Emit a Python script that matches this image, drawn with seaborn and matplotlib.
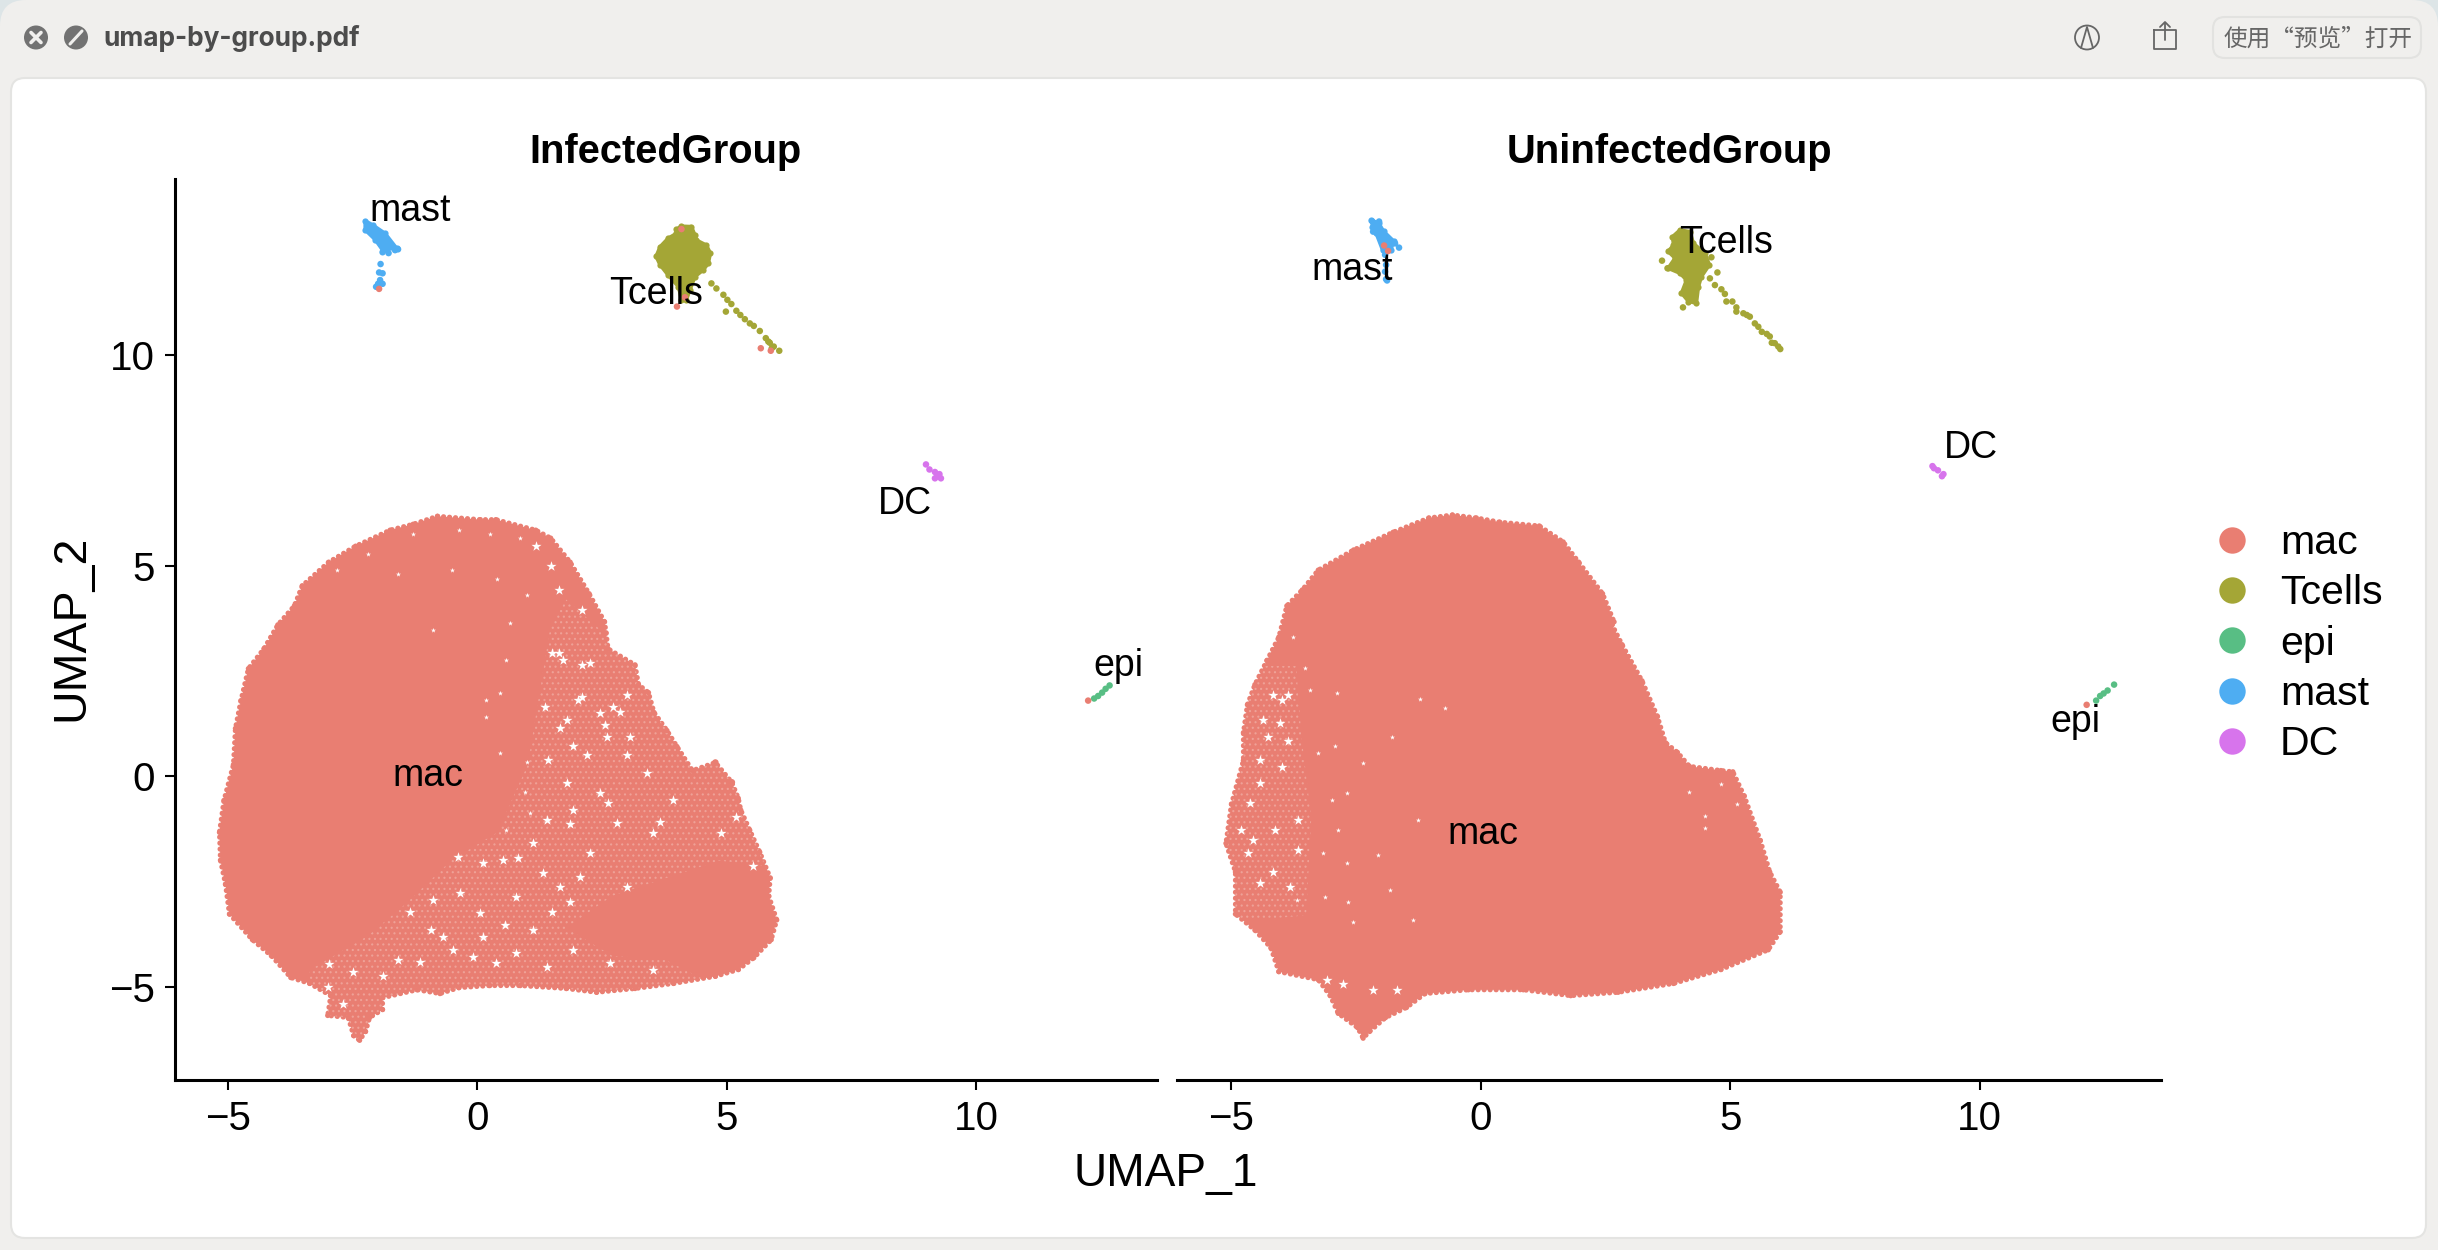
import matplotlib
matplotlib.use("Agg")
import matplotlib.pyplot as plt
from matplotlib.lines import Line2D
from matplotlib.patches import Circle, FancyBboxPatch
import pandas as pd
import seaborn as sns

W, H = 2438, 1250
CLUSTERS = ["mac", "Tcells", "epi", "mast", "DC"]
COLORS = ["#E97E72", "#A4A636", "#58BE84", "#4EADF2", "#D774EC"]
PALETTE = dict(zip(CLUSTERS, COLORS))
PANELS = ["InfectedGroup", "UninfectedGroup"]
XTICKS = [-5, 0, 5, 10]
YTICKS = [-5, 0, 5, 10]

# ---- values (UMAP coordinates) ----
inf_mac_x = [-0.8,0.06,0.37,1.17,1.47,1.86,2.24,2.55,2.58,2.62,3.16,3.23,3.43,3.54,3.8,4.0,4.31,4.77,5.1,5.23,5.28,5.46,5.66,5.87,5.84,6.0,5.89,5.54,5.23,4.77,3.93,3.16,2.39,1.78,0.86,0.25,-0.37,-0.75,-1.21,-1.9,-1.9,-2.16,-2.24,-2.36,-2.48,-2.59,-3.0,-2.94,-3.36,-3.74,-4.13,-4.51,-4.97,-5.05,-5.15,-5.17,-5.08,-4.89,-4.85,-4.74,-4.59,-4.28,-4.0,-3.67,-3.51,-2.98,-2.44,-1.75,-1.29]
inf_mac_y = [6.18,6.1,6.1,5.85,5.66,5.09,4.34,3.67,3.41,3.03,2.65,2.18,1.99,1.52,1.09,0.71,0.14,0.33,-0.14,-0.52,-0.8,-1.28,-1.8,-2.41,-2.84,-3.41,-3.88,-4.31,-4.59,-4.75,-4.92,-5.04,-5.13,-5.04,-4.97,-4.97,-5.02,-5.16,-5.07,-5.26,-5.54,-5.73,-6.06,-6.27,-6.16,-5.73,-5.68,-5.21,-4.92,-4.78,-4.26,-3.88,-3.27,-2.56,-1.99,-1.33,-0.57,0.28,1.14,1.8,2.56,3.03,3.6,4.05,4.53,5.09,5.47,5.85,5.99]
inf_sparse_x = [1.47,1.78,3.4,5.4,6.2,4.85,2.7,1.78,2.7,3.77,4.5,4.5,-1.8,-2.2,-3.5,-3.36,-2.2,-1.44,-0.52,0.4,1.01]
inf_sparse_y = [3.6,4.2,2.5,-0.2,-2.2,-2.0,-2.84,-3.6,-4.26,-4.36,-4.8,-5.4,-6.5,-6.5,-6.0,-4.6,-3.79,-3.03,-1.99,-1.33,0.28]

uni_mac_x = [-0.57,-1.04,-1.76,-2.55,-3.26,-3.58,-3.89,-4.05,-4.29,-4.53,-4.68,-4.76,-4.76,-5.0,-5.11,-4.92,-4.92,-4.53,-4.21,-4.05,-3.26,-3.02,-2.86,-2.47,-2.36,-2.23,-1.91,-1.49,-1.12,-0.25,0.85,1.8,2.75,3.86,4.81,5.76,6.0,6.0,5.79,5.6,5.28,5.05,4.81,4.18,3.94,3.7,3.54,3.23,2.83,2.63,2.67,2.44,1.96,1.65,1.17,0.38,-0.09]
uni_mac_y = [6.21,6.14,5.8,5.38,4.9,4.43,4.05,3.31,2.75,2.18,1.7,1.04,0.38,-0.66,-1.59,-2.27,-3.27,-3.65,-4.07,-4.64,-4.83,-5.21,-5.63,-5.97,-6.22,-6.06,-5.73,-5.49,-5.16,-5.07,-5.07,-5.21,-5.13,-4.92,-4.59,-4.12,-3.69,-2.75,-2.27,-1.52,-0.47,0.11,0.14,0.24,0.57,0.8,1.42,2.27,3.13,3.6,3.67,4.34,5.09,5.57,5.95,6.04,6.14]
uni_sparse_x = [-4.8,-3.7,-3.6,-3.4,-3.5,-5.3,-5.4]
uni_sparse_y = [2.6,2.6,1.0,-1.0,-3.3,-3.5,-1.0]

# speckle: places where the white background shows through the mac cloud
inf_gap_x = [1.49,1.72,2.25,2.02,2.72,1.35,1.79,2.45,1.65,2.59,3.06,1.42,1.92,2.19,2.99,1.79,2.45,2.62,1.92,1.39,2.79,3.66,1.85,1.12,0.82,0.52,-0.38,0.12,1.32,2.05,0.78,1.65,1.85,1.49,-0.68,0.05,0.12,0.55,1.12,-0.08,-0.48,0.38,1.39,2.65,3.52,2.25,4.89,5.53,5.19,3.39,3.52,-0.35,-0.88,-1.35,-0.92,-1.15,0.78,1.92,2.99,3.92,-2.97,-2.5,-1.9,-1.6,-3.0,-2.7,1.17,1.47,1.63,2.09,1.63,2.09,2.85,3.0,2.09,2.55]
inf_gap_y = [2.92,2.76,2.69,1.81,1.66,1.66,1.34,1.5,1.14,0.94,0.94,0.39,0.71,0.51,0.51,-0.16,-0.4,-0.64,-0.8,-1.04,-1.11,-1.08,-1.12,-1.59,-1.95,-1.99,-1.91,-2.06,-2.3,-2.38,-2.86,-2.62,-2.98,-3.21,-3.81,-3.25,-3.81,-3.53,-3.65,-4.28,-4.12,-4.44,-4.52,-4.44,-4.6,-1.83,-1.35,-2.14,-0.96,0.07,-1.35,-2.78,-2.94,-3.21,-3.65,-4.4,-4.2,-4.12,-2.62,-0.56,-4.45,-4.64,-4.74,-4.35,-5.0,-5.4,5.47,5.0,4.43,3.96,2.94,2.65,1.52,1.94,1.89,1.23]
inf_fleck_x = [0.65,0.45,0.18,0.18,0.45,0.99,0.95,0.58,-0.89,1.05,0.58,0.86,0.25,-0.37,-1.29,-2.2,-2.82,-1.6,-0.5,0.4,1.0]
inf_fleck_y = [3.64,1.97,1.81,1.42,0.55,0.35,-0.36,2.77,3.48,-0.88,-1.27,5.66,5.76,5.85,5.76,5.28,4.9,4.8,4.9,4.7,4.3]
uni_gap_x = [-3.99,-4.16,-3.86,-4.26,-3.86,-4.43,-3.99,-4.43,-3.66,-3.66,-4.13,-4.56,-4.66,-4.43,-4.16,-4.03,-4.36,-4.8,-4.63,-3.83,-2.76,-2.16,-1.69,-3.09]
uni_gap_y = [1.81,1.93,1.93,0.94,0.83,0.39,0.23,-0.16,-1.04,-1.75,-1.27,-1.51,-1.83,-2.54,-2.26,1.26,1.34,-1.27,-0.64,-2.62,-4.92,-5.07,-5.07,-4.84]
uni_fleck_x = [-2.93,-2.69,-3.13,-2.56,-1.36,-3.26,-2.36,-3.43,-3.76,-3.53,-2.89,-1.22,-0.72,-1.79,-2.06,-1.82,-3.69,-2.66,-1.26,-3.16,-2.99,-2.86,-2.69,4.18,4.49,4.81,5.13,4.49]
uni_fleck_y = [0.71,-2.06,-2.86,-3.45,-3.41,0.55,0.31,2.05,3.32,2.57,1.97,1.85,1.62,0.94,-1.87,-2.7,-2.94,-2.98,-1.04,-1.83,-0.56,-1.27,-0.4,-0.38,-0.95,-0.19,-0.66,-1.23]

inf_t_blob_x = [4.09,4.29,4.36,4.39,4.59,4.67,4.63,4.53,4.36,4.26,4.19,4.09,4.03,3.82,3.66,3.58,3.66,3.82,3.99,3.99]
inf_t_blob_y = [13.07,13.06,12.86,12.74,12.62,12.43,12.19,12.03,11.87,11.55,11.32,11.32,11.63,11.91,12.15,12.35,12.58,12.78,12.9,13.0]
uni_t_blob_x = [3.99,4.19,4.26,4.49,4.58,4.42,4.36,4.32,4.16,4.02,4.12,3.99,3.75,3.89,3.75,3.86,3.84]
uni_t_blob_y = [12.98,12.94,12.66,12.43,12.15,11.87,11.63,11.24,11.28,11.48,11.79,11.95,12.07,12.31,12.47,12.62,12.82]
inf_mast_blob_x = [-2.25,-2.1,-1.85,-1.62,-1.9,-2.05,-2.25]
inf_mast_blob_y = [13.2,13.1,12.9,12.55,12.5,12.75,12.98]
uni_mast_blob_x = [-2.18,-2.05,-1.95,-1.75,-1.8,-1.97,-2.1,-2.18]
uni_mast_blob_y = [13.2,13.15,12.95,12.72,12.5,12.5,12.9,13.05]

inf_t_x = [4.69,4.79,4.93,5.01,5.09,4.98,5.19,5.27,5.36,5.46,5.54,5.66,5.78,5.86,5.94,6.05,5.83,5.9]
inf_t_y = [11.71,11.59,11.44,11.32,11.22,11.04,11.06,10.96,10.86,10.76,10.7,10.58,10.41,10.3,10.21,10.11,10.33,10.17]
uni_t_x = [3.63,3.74,4.05,4.62,4.74,4.59,4.69,4.82,4.89,4.92,5.04,5.12,5.12,5.26,5.39,5.49,5.63,5.79,5.83,5.96,6.0,5.33,5.56,5.73,5.89]
uni_t_y = [12.25,12.07,11.14,12.33,11.97,11.83,11.67,11.57,11.46,11.28,11.28,11.14,11.04,11.0,10.92,10.76,10.56,10.45,10.3,10.21,10.15,10.96,10.68,10.51,10.29]

inf_mast_x = [-1.9,-1.78,-1.94,-1.97,-1.9,-1.95,-1.99,-1.9,-2.03,-1.59,-1.65]
inf_mast_y = [12.45,12.43,12.17,11.97,11.95,11.79,11.7,11.7,11.63,12.52,12.5]
uni_mast_x = [-2.19,-2.04,-2.16,-1.64,-1.92,-1.9,-1.92,-1.9,-1.88,-1.72]
uni_mast_y = [13.2,13.18,12.94,12.56,12.39,12.15,11.99,11.81,11.78,12.66]

inf_dc_x = [8.99,9.06,9.17,9.26,9.29,9.17,9.22]
inf_dc_y = [7.41,7.29,7.23,7.18,7.08,7.08,7.13]
uni_dc_x = [9.05,9.16,9.24,9.08,9.27]
uni_dc_y = [7.37,7.27,7.13,7.32,7.18]

inf_epi_x = [12.67,12.52,12.36,12.59,12.44]
inf_epi_y = [2.16,1.99,1.85,2.08,1.91]
uni_epi_x = [12.69,12.56,12.41,12.33,12.48]
uni_epi_y = [2.18,2.04,1.91,1.8,1.97]

inf_stray_x = [-1.97,4.09,4.0,4.16,5.68,5.88,12.24,4.77,5.1]
inf_stray_y = [11.58,13.0,11.16,11.38,10.17,10.11,1.8,0.33,-0.14]
uni_stray_x = [-1.94,-1.86,12.14]
uni_stray_y = [12.61,12.48,1.7]

inf_lab = {"mast":(-1.34,13.44),"Tcells":(3.58,11.47),"DC":(8.57,6.46),"epi":(12.84,2.62),"mac":(-0.99,0.0)}
uni_lab = {"mast":(-2.57,12.04),"Tcells":(4.91,12.66),"DC":(9.82,7.8),"epi":(11.92,1.29),"mac":(0.04,-1.37)}

sns.set_theme(style="white")
plt.rcParams["font.family"] = ["Liberation Sans", "Noto Sans CJK SC", "DejaVu Sans"]
plt.rcParams["hatch.linewidth"] = 0.8
BLACK = "#000000"

def table(groups):
    rows = []
    for name, xs, ys in groups:
        rows += [{"x": a, "y": b, "cluster": name} for a, b in zip(xs, ys)]
    return pd.DataFrame(rows)

fig = plt.figure(figsize=(W / 100, H / 100), dpi=100, facecolor="#DDE5E7")

# window chrome, in pixel coordinates
bg = fig.add_axes([0, 0, 1, 1], zorder=0)
bg.set_xlim(0, W); bg.set_ylim(H, 0); bg.axis("off")
def rbox(x0, y0, x1, y1, r, **kw):
    bg.add_patch(FancyBboxPatch((x0 + r, y0 + r), x1 - x0 - 2 * r, y1 - y0 - 2 * r,
                                boxstyle=f"round,pad={r},rounding_size={r}", **kw))
rbox(0, 0, W, H + 40, 26, fc="#F0EFED", ec="none")
rbox(11, 78, 2426, 1238, 14, fc="white", ec="#E4E4E2", lw=1.5)
rbox(2213, 17, 2421, 58, 12, fc="#F0EFED", ec="#E2E2E0", lw=1.5)
GREY = "#727272"
bg.add_patch(Circle((36, 37.5), 12, fc=GREY, ec="none"))
bg.plot([31, 41], [32.5, 42.5], color="#F0EFED", lw=2.6)
bg.plot([31, 41], [42.5, 32.5], color="#F0EFED", lw=2.6)
bg.add_patch(Circle((76, 37.5), 12, fc=GREY, ec="none"))
bg.plot([70, 82], [44, 31], color="#F0EFED", lw=2.2)
bg.text(103, 38, "umap-by-group.pdf", family="Inter", weight="bold", fontsize=18.9,
        color="#4C4C4C", va="center", ha="left")
bg.add_patch(Circle((2087, 37.5), 12, fc="none", ec="#666666", lw=1.3))
bg.plot([2081, 2087, 2093], [48, 27, 48], color="#666666", lw=1.3)
bg.plot([2154, 2154, 2176, 2176, 2154], [30, 49, 49, 30, 30], color="#666666", lw=1.3)
bg.plot([2165, 2165], [23, 40], color="#666666", lw=1.3)
bg.plot([2160, 2165, 2170], [27, 22, 27], color="#666666", lw=1.3)
bg.text(2318, 39, "使用“预览”打开", family=["Noto Sans CJK SC", "DejaVu Sans"], fontsize=17,
        color="#666666", va="center", ha="center")

def make_axes(x0, x1):
    y0, y1 = 179, 1079.5
    return fig.add_axes([x0 / W, 1 - y1 / H, (x1 - x0) / W, (y1 - y0) / H],
                        zorder=1, facecolor="none")

ax_l = make_axes(175, 1157)
ax_r = make_axes(1177, 2161)
for ax, xlim in ((ax_l, (-6.06, 13.62)), (ax_r, (-6.09, 13.63))):
    ax.set_xlim(*xlim); ax.set_ylim(-7.2, 14.19)

specs = [
    (ax_l, PANELS[0], inf_mac_x, inf_mac_y, (inf_sparse_x, inf_sparse_y),
     (inf_gap_x, inf_gap_y), (inf_fleck_x, inf_fleck_y),
     inf_t_blob_x, inf_t_blob_y, inf_mast_blob_x, inf_mast_blob_y,
     table([("Tcells", inf_t_x, inf_t_y), ("mast", inf_mast_x, inf_mast_y), ("DC", inf_dc_x, inf_dc_y),
            ("epi", inf_epi_x, inf_epi_y), ("mac", inf_stray_x, inf_stray_y)]), inf_lab),
    (ax_r, PANELS[1], uni_mac_x, uni_mac_y, (uni_sparse_x, uni_sparse_y),
     (uni_gap_x, uni_gap_y), (uni_fleck_x, uni_fleck_y),
     uni_t_blob_x, uni_t_blob_y, uni_mast_blob_x, uni_mast_blob_y,
     table([("Tcells", uni_t_x, uni_t_y), ("mast", uni_mast_x, uni_mast_y), ("DC", uni_dc_x, uni_dc_y),
            ("epi", uni_epi_x, uni_epi_y), ("mac", uni_stray_x, uni_stray_y)]), uni_lab),
]
for ax, title, mx, my, sparse, gaps, flecks, bx, by, qx, qy, df, labs in specs:
    body = ax.fill(mx, my, facecolor=PALETTE["mac"], edgecolor=PALETTE["mac"], lw=3.6,
                   linestyle=(0, (0.05, 1.15)), capstyle="round", joinstyle="round", zorder=1)[0]
    h = ax.fill(*sparse, facecolor="none", edgecolor="#EFA197", lw=0, hatch="...", zorder=1.05)[0]
    h.set_clip_path(body)
    sns.scatterplot(x=gaps[0], y=gaps[1], color="white", marker="*", s=58, linewidth=0,
                    legend=False, ax=ax, zorder=1.1)
    sns.scatterplot(x=flecks[0], y=flecks[1], color="white", marker="*", s=14, linewidth=0,
                    legend=False, ax=ax, zorder=1.1)
    for px, py, name in ((bx, by, "Tcells"), (qx, qy, "mast")):
        ax.fill(px, py, facecolor=PALETTE[name], edgecolor=PALETTE[name], lw=2.5,
                joinstyle="round", zorder=1.2)
        sns.scatterplot(x=px, y=py, color=PALETTE[name], s=20, linewidth=0, legend=False, ax=ax, zorder=1.25)
    sns.scatterplot(data=df, x="x", y="y", hue="cluster", palette=PALETTE, s=22, linewidth=0,
                    legend=False, ax=ax, zorder=1.3)
    mac_outline = table([("mac", mx, my)])
    sns.scatterplot(data=mac_outline, x="x", y="y", hue="cluster", palette=PALETTE, s=14, linewidth=0,
                    legend=False, ax=ax, zorder=1.3)
    for name, (tx, ty) in labs.items():
        ax.text(tx, ty, name, fontsize=27, color=BLACK, ha="center", va="center", zorder=3)
    ax.set_title(title, fontsize=28.7, fontweight="bold", color=BLACK, pad=11.5)
    ax.set_xticks(XTICKS)
    ax.set_yticks(YTICKS)
    ax.set_xlabel(""); ax.set_ylabel("")
    ax.tick_params(axis="both", length=7.5, width=1.5, color=BLACK, labelcolor=BLACK,
                   labelsize=29, pad=7, bottom=True, left=True)
    for s in ("top", "right"):
        ax.spines[s].set_visible(False)
    for s in ("left", "bottom"):
        ax.spines[s].set_linewidth(2.2)
        ax.spines[s].set_color(BLACK)

ax_r.spines["left"].set_visible(False)
ax_r.tick_params(axis="y", left=False, labelleft=False)

fig.text(1166 / W, 1 - 1174 / H, "UMAP_1", fontsize=33.2, color=BLACK, ha="center", va="center")
fig.text(71 / W, 1 - 628 / H, "UMAP_2", fontsize=33.5, color=BLACK, ha="center", va="center", rotation=90)

handles = [Line2D([], [], linestyle="none", marker="o", markersize=19, markeredgewidth=0,
                  color=PALETTE[c], label=c) for c in CLUSTERS]
fig.legend(handles=handles, loc="upper left", bbox_to_anchor=(2208 / W, 1 - 524 / H),
           frameon=False, fontsize=29.5, labelspacing=0.3, borderpad=0, borderaxespad=0,
           handlelength=1.18, handletextpad=0.58, labelcolor=BLACK)

fig.savefig("out.png", dpi=100, facecolor=fig.get_facecolor())
